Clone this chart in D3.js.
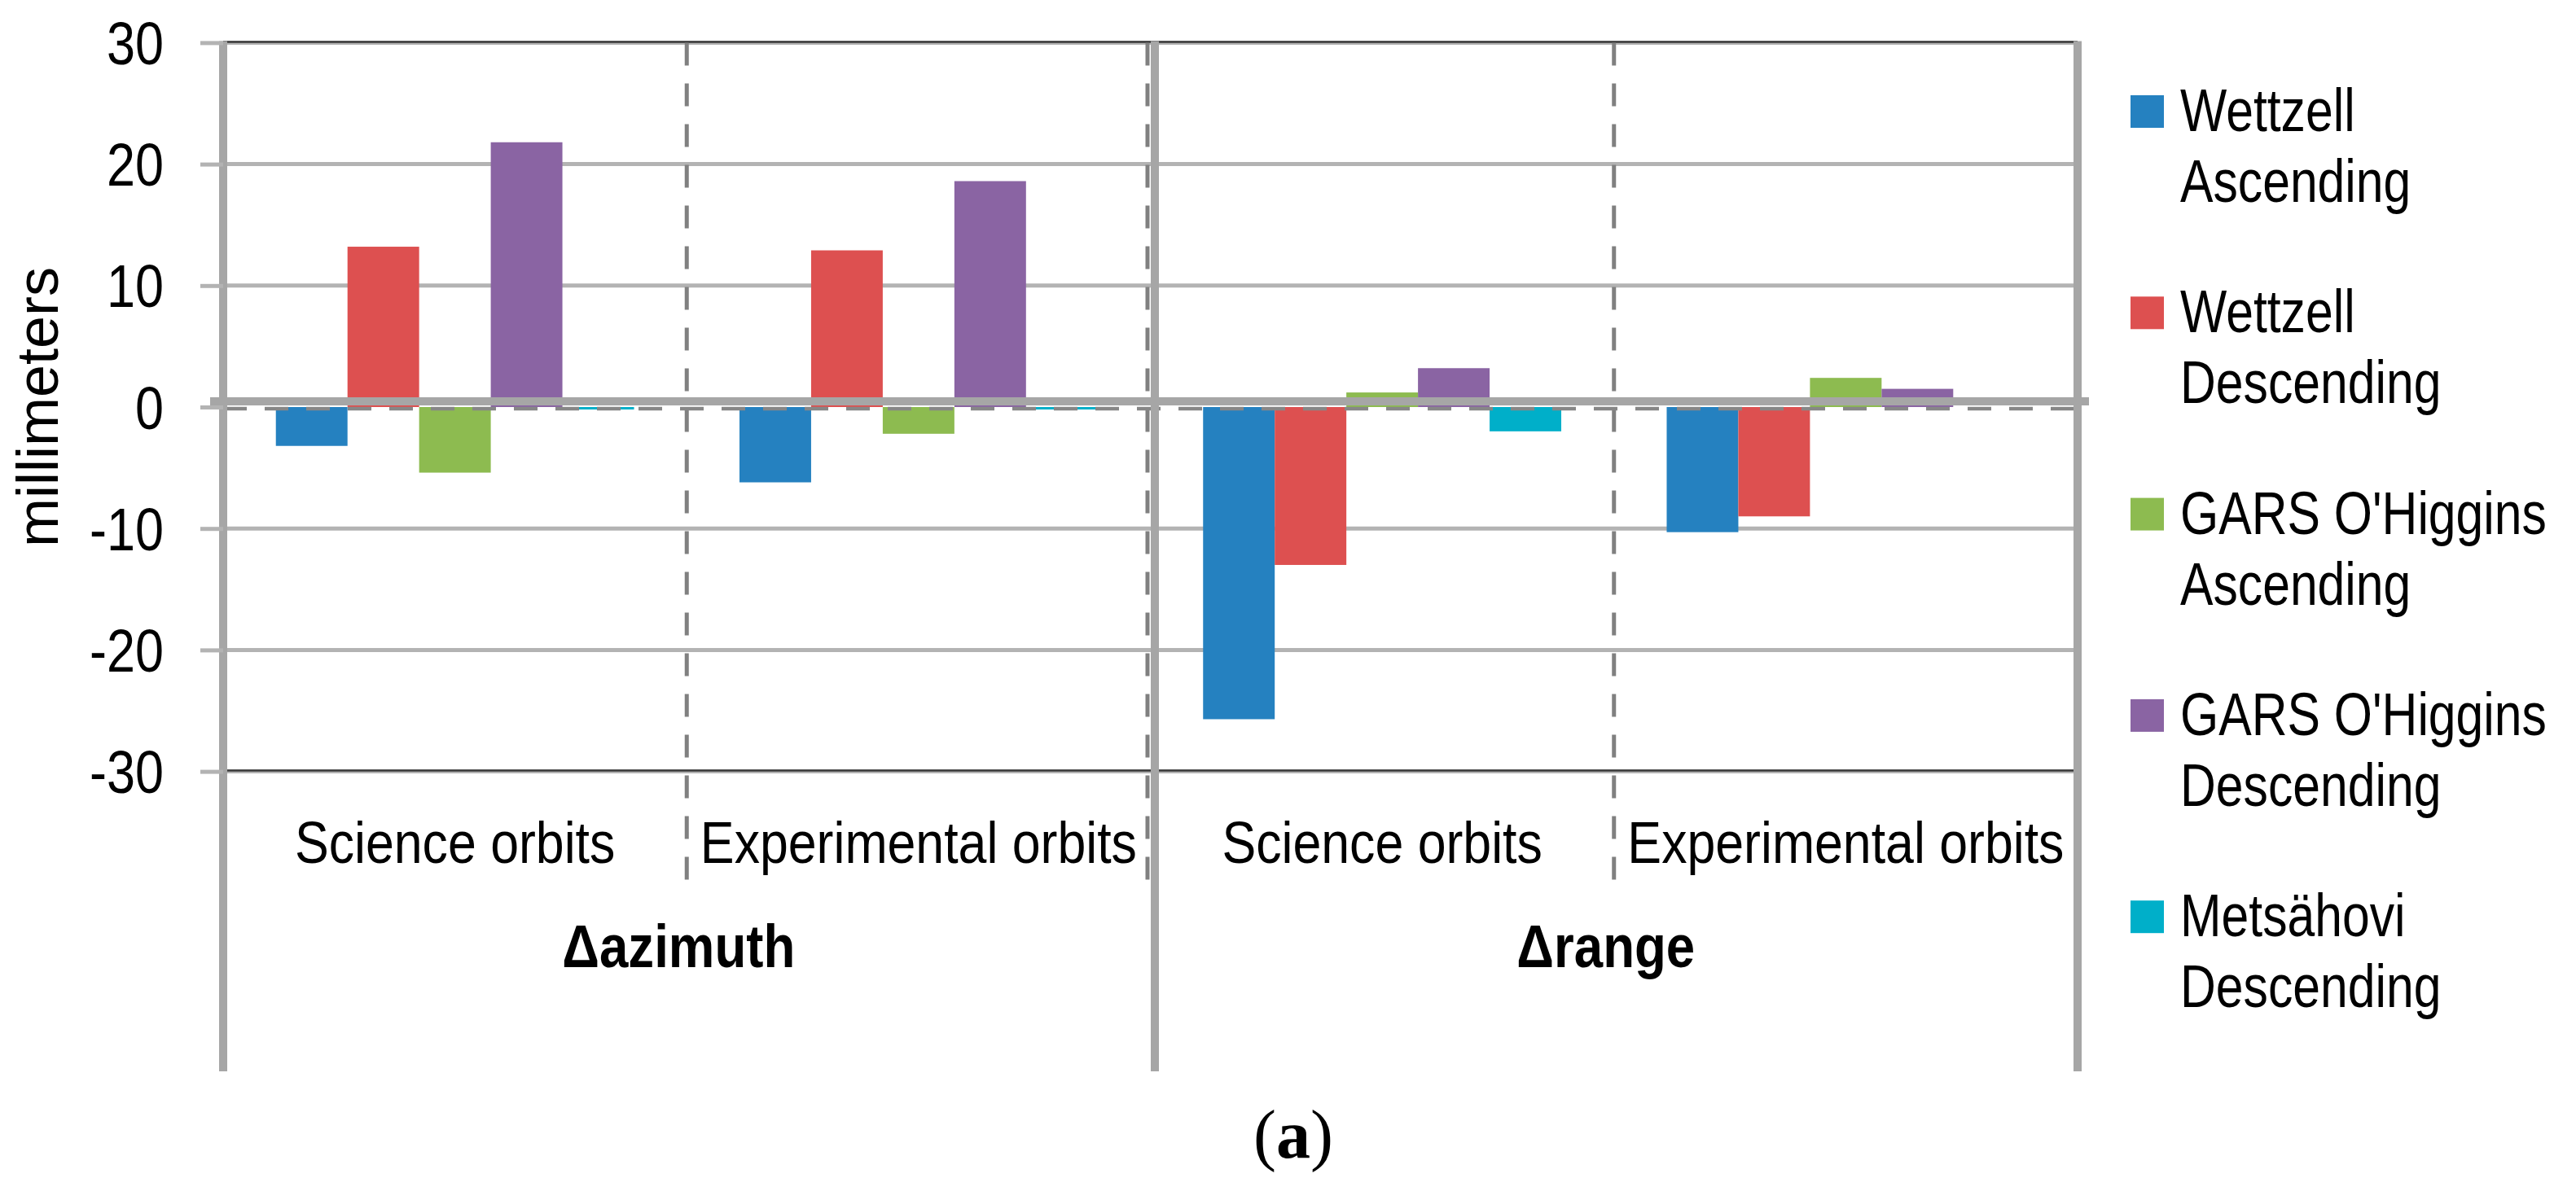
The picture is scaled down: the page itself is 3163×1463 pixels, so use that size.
<!DOCTYPE html>
<html>
<head>
<meta charset="utf-8">
<script src="https://cdn.jsdelivr.net/npm/d3@7"></script>
<style>
  body { margin: 0; background: #fff; }
  svg { display: block; }
  text { font-family: "Liberation Sans", Arial, sans-serif; fill: #000; }
</style>
</head>
<body>
<svg id="chart" width="3163" height="1463"></svg>
<script>
// data
const groups = ["Δazimuth", "Δrange"];
const orbits = ["Science orbits", "Experimental orbits"];
const seriesNames = ["Wettzell Ascending", "Wettzell Descending", "GARS O'Higgins Ascending",
  "GARS O'Higgins Descending", "Metsähovi Descending"];
const seriesColors = ["#2581c0", "#dd5050", "#8dbb50", "#8a64a3", "#00afc9"];
// one value per category: azimuth-science, azimuth-experimental, range-science, range-experimental
const wettzellAsc = [-3.2, -6.2, -25.7, -10.3];
const wettzellDesc = [13.2, 12.9, -13.0, -9.0];
const garsAsc = [-5.4, -2.2, 1.2, 2.4];
const garsDesc = [21.8, 18.6, 3.2, 1.5];
const metsahoviDesc = [-0.2, -0.2, -2.0, 0];
const yTicks = [-30, -20, -10, 0, 10, 20, 30];

const seriesValues = [wettzellAsc, wettzellDesc, garsAsc, garsDesc, metsahoviDesc];

const categories = [];
groups.forEach(g => orbits.forEach(o => categories.push(g + "|" + o)));

const svg = d3.select("#chart");
svg.append("rect").attr("width", 3163).attr("height", 1463).attr("fill", "#fff");

const plotLeft = 274, plotRight = 2551, plotTop = 52.4, plotBottom = 947.6;

const x0 = d3.scaleBand().domain(categories).range([plotLeft, plotRight]).padding(0);
const x1 = d3.scaleBand().domain(seriesNames).range([0, x0.bandwidth()])
  .paddingInner(0).paddingOuter(0.736);
const y = d3.scaleLinear().domain([-30, 30]).range([plotBottom, plotTop]);

// condensed text helper (the figure uses a narrow face)
function ctext(parent, x, yy, str, size, sx, anchor, weight) {
  return parent.append("text")
    .attr("transform", `translate(${x},${yy}) scale(${sx},1)`)
    .attr("text-anchor", anchor || "middle")
    .style("font-size", size + "px")
    .style("font-weight", weight || "normal")
    .text(str);
}

const g = svg.append("g");

// gridlines
yTicks.filter(t => t !== 0).forEach(t => {
  const edge = (t === 30 || t === -30);
  g.append("line")
    .attr("x1", plotLeft).attr("x2", plotRight)
    .attr("y1", y(t)).attr("y2", y(t))
    .attr("stroke", "#b3b3b3").attr("stroke-width", 5);
  if (edge) {
    g.append("line")
      .attr("x1", plotLeft).attr("x2", plotRight)
      .attr("y1", y(t) - 1).attr("y2", y(t) - 1)
      .attr("stroke", "#3a3a3a").attr("stroke-width", 2.5);
  }
});

// dashed category separators
categories.slice(1).forEach((c, i) => {
  const xx = x0(c) - (i === 1 ? 3.5 : 0);
  g.append("line")
    .attr("x1", xx).attr("x2", xx)
    .attr("y1", plotTop).attr("y2", 1088)
    .attr("stroke", "#808080").attr("stroke-width", 5)
    .attr("stroke-dasharray", "28,22");
});

// bars
seriesNames.forEach((s, si) => {
  g.append("g").selectAll("rect")
    .data(seriesValues[si])
    .join("rect")
    .attr("x", (d, i) => x0(categories[i]) + x1(s))
    .attr("width", x1.bandwidth())
    .attr("y", d => Math.min(y(d), y(0)))
    .attr("height", d => Math.abs(y(d) - y(0)))
    .attr("fill", seriesColors[si]);
});

// zero line: thick solid axis plus dashed line just under it
g.append("line")
  .attr("x1", 258).attr("x2", plotRight + 14)
  .attr("y1", y(0) - 7).attr("y2", y(0) - 7)
  .attr("stroke", "#a6a6a6").attr("stroke-width", 10);
g.append("line")
  .attr("x1", plotLeft).attr("x2", plotRight)
  .attr("y1", y(0) + 2).attr("y2", y(0) + 2)
  .attr("stroke", "#878787").attr("stroke-width", 4.5)
  .attr("stroke-dasharray", "29,22");

// solid group separators and the frame
[plotLeft, x0(categories[2]) + 5.5, plotRight].forEach(xx => {
  g.append("line")
    .attr("x1", xx).attr("x2", xx)
    .attr("y1", plotTop - 2).attr("y2", 1316)
    .attr("stroke", "#a6a6a6").attr("stroke-width", 10);
});

// y axis ticks and labels
const yAxis = d3.axisLeft(y).tickValues(yTicks).tickSize(28).tickFormat(d3.format("d"));
const ax = svg.append("g").attr("transform", `translate(${plotLeft},0)`).call(yAxis);
ax.select(".domain").remove();
ax.selectAll(".tick line").attr("stroke", "#b3b3b3").attr("stroke-width", 5);
ax.selectAll(".tick text")
  .attr("x", null).attr("dy", null)
  .attr("transform", "translate(-73,26) scale(0.84,1)")
  .attr("text-anchor", "end")
  .style("font-size", "75px")
  .style("font-family", "'Liberation Sans', Arial, sans-serif")
  .attr("fill", "#000")
  .text(d => d < 0 ? "-" + Math.abs(d) : d);

// y axis title
svg.append("text")
  .attr("transform", `translate(71,${y(0)}) rotate(-90)`)
  .attr("text-anchor", "middle")
  .style("font-size", "72px")
  .text("millimeters");

// category labels
categories.forEach((c, i) => {
  ctext(svg, x0(c) + x0.bandwidth() / 2, 1060, orbits[i % 2], 72, 0.87);
});
groups.forEach((gr, gi) => {
  const cx = x0(categories[gi * 2]) + x0.bandwidth() - 10;
  ctext(svg, cx, 1188, gr, 74, 0.86, "middle", "bold");
});

// legend
const legend = svg.append("g");
seriesNames.forEach((s, i) => {
  const by = 161 + i * 247.3;
  legend.append("rect")
    .attr("x", 2616).attr("y", by - 44)
    .attr("width", 41).attr("height", 40)
    .attr("fill", seriesColors[i]);
  const cut = s.lastIndexOf(" ");
  ctext(legend, 2677, by, s.slice(0, cut), 74, 0.82, "start");
  ctext(legend, 2677, by + 87, s.slice(cut + 1), 74, 0.82, "start");
});

// panel tag
const tag = svg.append("text")
  .attr("x", 1588).attr("y", 1422)
  .attr("text-anchor", "middle")
  .style("font-family", "'Liberation Serif', 'Times New Roman', serif")
  .style("font-size", "84px");
tag.append("tspan").text("(");
tag.append("tspan").style("font-weight", "bold").text("a");
tag.append("tspan").text(")");
</script>
</body>
</html>
